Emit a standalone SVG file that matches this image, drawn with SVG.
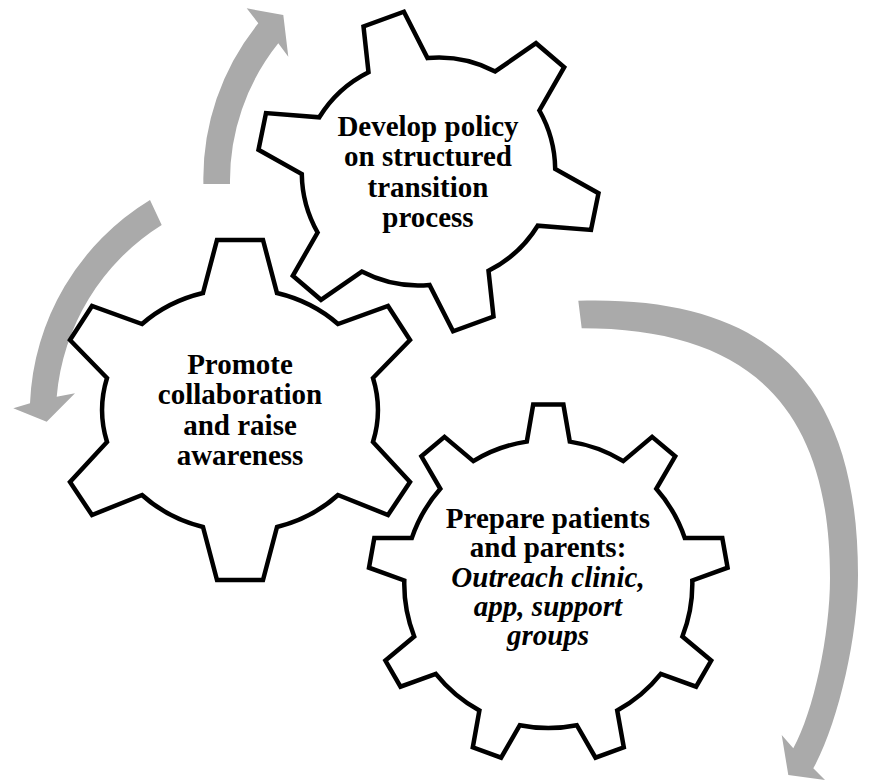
<svg xmlns="http://www.w3.org/2000/svg" width="883" height="783" viewBox="0 0 883 783">
<style>
.gear{fill:#ffffff;stroke:#000000;stroke-width:4.5;stroke-linejoin:miter;stroke-miterlimit:10}
.arrow{fill:#aaaaaa;stroke:none}
text{font-family:"Liberation Serif","Times New Roman",serif;font-weight:bold;font-size:29px;fill:#000000;text-anchor:middle}
.it{font-style:italic}
</style>
<rect width="883" height="783" fill="#ffffff"/>
<g id="connectors">
<path class="arrow" d="M203.4,184 A246.3 246.3 0 0 1 258.3,23.3 L246.7,8.3 L283.3,15 L288.3,56.7 L278.3,43.3 A219.7 219.7 0 0 0 230,184 Z"/>
<path class="arrow" d="M150,200 A250 250 0 0 0 30,403.3 L13.3,408.3 L46.7,421.7 L75,393.3 L56.7,396.7 A225 225 0 0 1 161.7,225 Z"/>
<path class="arrow" d="M578.3,300.7 C768.5,295 858,382.8 858,575 C858,636.9 837.9,723.9 813.3,768.3 L825,780 L788.3,775 L781.7,735 L793.3,748.3 C813.5,711.8 830,635.2 830,578 C830,408.2 750.5,328.3 581.7,328.3 Z"/>
</g>
<g id="gear-policy">
<path class="gear" d="M368.5,72.3 L363.5,26.5 L403.9,11.7 L427.5,58 A122 122 0 0 1 495.2,71.4 L536,43.2 L564.2,67.2 L539.4,110.5 A122 122 0 0 1 555.2,169 L598.5,193.2 L591,229.9 L537.7,225.7 A122 122 0 0 1 488.5,270.7 L493.5,316.5 L453.1,331.3 L429.5,285 A122 122 0 0 1 361.8,271.6 L321,299.8 L292.8,275.8 L317.6,232.5 A122 122 0 0 1 301.8,174 L258.5,149.8 L266,113.1 L319.3,117.3 A122 122 0 0 1 368.5,72.3 Z"/>
<text x="428" y="136">Develop policy</text>
<text x="428" y="166">on structured</text>
<text x="428" y="197">transition</text>
<text x="428" y="227">process</text>
</g>
<g id="gear-promote">
<path class="gear" d="M203,293 L217,240 L263,240 L277,293 A138 121.5 0 0 1 338,324 L388,306 L410,340 L373,378 A138 121.5 0 0 1 373,442 L410,482 L388,515 L338,495 A138 121.5 0 0 1 277,527 L263,580 L217,580 L203,527 A138 121.5 0 0 1 142,495 L92,515 L70,482 L107,442 A138 121.5 0 0 1 107,378 L70,340 L92,306 L142,324 A138 121.5 0 0 1 203,293 Z"/>
<text x="240" y="374">Promote</text>
<text x="240" y="404">collaboration</text>
<text x="240" y="435">and raise</text>
<text x="240" y="465">awareness</text>
</g>
<g id="gear-prepare">
<path class="gear" d="M526.8,441.6 L533.2,404.6 L563.4,404.6 L569.8,441.6 A144 144 0 0 1 623.3,461.1 L652.1,436.9 L675.2,456.3 L656.3,488.8 A144 144 0 0 1 684.8,538.1 L722.3,538 L727.6,567.7 L692.3,580.5 A144 144 0 0 1 682.4,636.5 L711.2,660.6 L696.1,686.7 L660.8,673.8 A144 144 0 0 1 617.2,710.4 L623.8,747.4 L595.5,757.7 L576.8,725.2 A144 144 0 0 1 519.8,725.2 L501.1,757.7 L472.8,747.4 L479.4,710.4 A144 144 0 0 1 435.8,673.8 L400.5,686.7 L385.4,660.6 L414.2,636.5 A144 144 0 0 1 404.3,580.5 L369,567.7 L374.3,538 L411.8,538.1 A144 144 0 0 1 440.3,488.8 L421.4,456.3 L444.5,436.9 L473.3,461.1 A144 144 0 0 1 526.8,441.6 Z"/>
<text x="548" y="528">Prepare patients</text>
<text x="548" y="557">and parents:</text>
<text class="it" x="548" y="587">Outreach clinic,</text>
<text class="it" x="548" y="616">app, support</text>
<text class="it" x="548" y="645">groups</text>
</g>
</svg>
